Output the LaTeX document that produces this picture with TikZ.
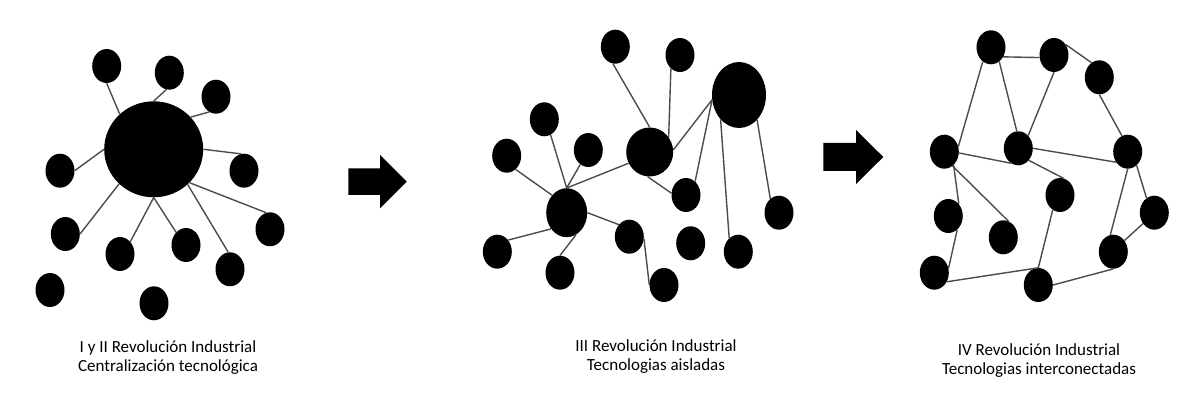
\documentclass[tikz,border=0pt]{standalone}
\usepackage{fontspec}
\setmainfont{Carlito}
\usetikzlibrary{shapes.geometric}
\tikzset{
  dot/.style={ellipse, fill=black, draw=none, inner sep=0pt, minimum width=29pt, minimum height=34pt},
  hub/.style={ellipse, fill=black, draw=none, inner sep=0pt},
  link/.style={draw=black!70, line width=1.4pt},
  label/.style={anchor=base, inner sep=0pt, font=\fontsize{17}{20}\selectfont},
  blockarrow/.style={fill=black, draw=none}
}
\begin{document}
\begin{tikzpicture}[x=1pt,y=-1pt]
\useasboundingbox (0,0) rectangle (1203,403);
\fill[white] (0,0) rectangle (1203,403);

% ---------- Panel 1 ----------
\node[hub, minimum width=99pt, minimum height=96pt] (H) at (153.7,149.3) {};
\node[dot] (a1) at (106.7,66) {};
\node[dot] (a2) at (169.3,72.7) {};
\node[dot] (a3) at (216,96.7) {};
\node[dot] (a4) at (60,170.7) {};
\node[dot] (a5) at (244,170.7) {};
\node[dot] (a6) at (270,229.3) {};
\node[dot] (a7) at (65.3,234) {};
\node[dot] (a8) at (120,254) {};
\node[dot] (a9) at (186,245) {};
\node[dot] (a10) at (230,269.3) {};
\node[dot] (a11) at (50,290) {};
\node[dot] (a12) at (154,303.3) {};
\draw[link] (H.134) -- (a1.south);
\draw[link] (H.north) -- (a2.260);
\draw[link] (H.41) -- (a3.246);
\draw[link] (H.west) -- (a4.east);
\draw[link] (H.east) -- (a5.100);
\draw[link] (H.317) -- (a6.103);
\draw[link] (H.225) -- (a7.east);
\draw[link] (H.south) -- (a8.50);
\draw[link] (H.south) -- (a9.128);
\draw[link] (H.314) -- (a10.96);

% ---------- Arrow 1 ----------
\fill[blockarrow] (348.3,168.3) -- (380,168.3) -- (380,155) -- (406.7,181.7) -- (380,208.3) -- (380,195) -- (348.3,195) -- cycle;

% ---------- Panel 2 ----------
\node[hub, minimum width=54pt, minimum height=66pt] (A) at (739,95) {};
\node[hub, minimum width=47pt, minimum height=49pt] (B) at (649.7,152) {};
\node[hub, minimum width=41pt, minimum height=49pt] (C) at (566.7,212.7) {};
\node[dot] (b1) at (615.3,46.7) {};
\node[dot] (b2) at (680,55) {};
\node[dot] (b3) at (544.3,119.3) {};
\node[dot] (b4) at (506.7,155.7) {};
\node[dot] (b5) at (588.3,150) {};
\node[dot] (b6) at (686,195) {};
\node[dot] (b7) at (779,212.7) {};
\node[dot] (b8) at (497.3,251.7) {};
\node[dot] (b9) at (560,272.7) {};
\node[dot] (b10) at (629.3,236.7) {};
\node[dot] (b11) at (690.7,243.3) {};
\node[dot] (b12) at (738.3,251.7) {};
\node[dot] (b13) at (664,285) {};
\draw[link] (b1.262) -- (B.north);
\draw[link] (b2.236) -- (B.38);
\draw[link] (A.190) -- (B.5);
\draw[link] (A.190) -- (b6.56);
\draw[link] (A.233) -- (b12.124);
\draw[link] (A.306) -- (b7.122);
\draw[link] (B.265) -- (b6.173);
\draw[link] (B.208) -- (C.north);
\draw[link] (b3.292) -- (C.north);
\draw[link] (b5.241) -- (C.north);
\draw[link] (b4.303) -- (C.130);
\draw[link] (b8.47) -- (C.226);
\draw[link] (C.293) -- (b9.north);
\draw[link] (C.east) -- (b10.131);
\draw[link] (b10.353) -- (b13.west);

% ---------- Arrow 2 ----------
\fill[blockarrow] (823.3,143) -- (856,143) -- (856,130) -- (883.3,157) -- (856,184) -- (856,171) -- (823.3,171) -- cycle;

% ---------- Panel 3 ----------
\node[dot] (c1) at (991,47.3) {};
\node[dot] (c2) at (1054,55) {};
\node[dot] (c3) at (1099.3,77.3) {};
\node[dot] (c4) at (944.3,151.7) {};
\node[dot] (c5) at (1018.3,148.3) {};
\node[dot] (c6) at (1127.7,151.7) {};
\node[dot] (c7) at (1060,195) {};
\node[dot] (c8) at (948.3,216) {};
\node[dot] (c9) at (1003.3,237.3) {};
\node[dot] (c10) at (1154.3,212.7) {};
\node[dot] (c11) at (934.3,272.7) {};
\node[dot] (c12) at (1038.3,285) {};
\node[dot] (c13) at (1113.3,251.7) {};
\draw[link] (c1.322) -- (c2.190);
\draw[link] (c2.42) -- (c3.118);
\draw[link] (c1.240) -- (c4.20);
\draw[link] (c1.300) -- (c5.95);
\draw[link] (c2.south) -- (c5.52);
\draw[link] (c3.south) -- (c6.110);
\draw[link] (c4.355) -- (c5.244);
\draw[link] (c5.east) -- (c6.222);
\draw[link] (c5.311) -- (c7.78);
\draw[link] (c4.305) -- (c8.49);
\draw[link] (c4.300) -- (c9.72);
\draw[link] (c8.303) -- (c11.17);
\draw[link] (c11.324) -- (c12.north);
\draw[link] (c7.244) -- (c12.north);
\draw[link] (c12.east) -- (c13.south);
\draw[link] (c6.south) -- (c13.100);
\draw[link] (c6.303) -- (c10.118);
\draw[link] (c10.224) -- (c13.45);

% ---------- Labels ----------
\node[label] (t1a) at (168,353) {I y II Revolución Industrial};
\node[label] (t1b) at (168,372) {Centralización tecnológica};
\node[label] (t2a) at (656,352) {III Revolución Industrial};
\node[label] (t2b) at (656,371) {Tecnologias aisladas};
\node[label] (t3a) at (1039,356) {IV Revolución Industrial};
\node[label] (t3b) at (1039,375) {Tecnologias interconectadas};
\end{tikzpicture}
\end{document}
